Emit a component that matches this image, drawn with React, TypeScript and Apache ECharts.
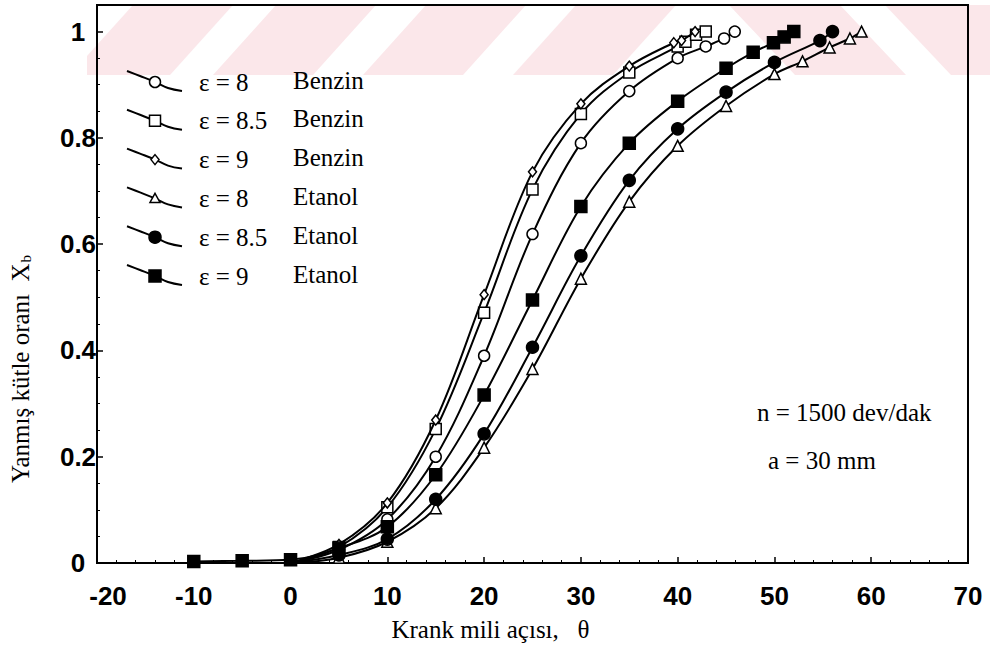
import React, { useEffect, useRef } from "react";
import * as echarts from "echarts";

// ---- data ----
const X_TICKS = [-20, -10, 0, 10, 20, 30, 40, 50, 60, 70];
const Y_TICKS = [0, 0.2, 0.4, 0.6, 0.8, 1];

const B8_X = [0, 5, 10, 15, 20, 25, 30, 35, 40, 42.9, 44.8, 45.9];
const B8_Y = [0, 0.025, 0.082, 0.2, 0.39, 0.619, 0.79, 0.888, 0.95, 0.972, 0.987, 1.0];

const B85_X = [0, 5, 10, 15, 20, 25, 30, 35, 40, 40.8, 41.9, 42.9];
const B85_Y = [0, 0.03, 0.105, 0.252, 0.471, 0.703, 0.845, 0.923, 0.972, 0.981, 0.994, 1.0];

const B9_X = [0, 5, 10, 15, 20, 25, 30, 35, 39.6, 40.4, 41.8];
const B9_Y = [0, 0.035, 0.113, 0.269, 0.505, 0.736, 0.864, 0.935, 0.979, 0.983, 1.0];

const E8_X = [0, 5, 10, 15, 20, 25, 30, 35, 40, 45, 50, 52.9, 55.7, 57.8, 59];
const E8_Y = [0, 0.01, 0.04, 0.103, 0.217, 0.365, 0.535, 0.68, 0.785, 0.86, 0.92, 0.944, 0.97, 0.987, 1.0];

const E85_X = [0, 5, 10, 15, 20, 25, 30, 35, 40, 45, 50, 54.7, 56];
const E85_Y = [0, 0.015, 0.045, 0.12, 0.243, 0.406, 0.578, 0.72, 0.817, 0.886, 0.942, 0.983, 1.0];

const E9_X = [-10, -5, 0, 5, 10, 15, 20, 25, 30, 35, 40, 45, 47.8, 49.9, 51, 52];
const E9_Y = [0.003, 0.004, 0.006, 0.028, 0.068, 0.166, 0.316, 0.495, 0.671, 0.79, 0.869, 0.931, 0.961, 0.979, 0.99, 1.0];

const LEGEND_EPS = ["ε = 8", "ε = 8.5", "ε = 9", "ε = 8", "ε = 8.5", "ε = 9"];
const LEGEND_FUEL = ["Benzin", "Benzin", "Benzin", "Etanol", "Etanol", "Etanol"];

const NOTE_1 = "n = 1500 dev/dak";
const NOTE_2 = "a = 30 mm";

const SERIF = "'Liberation Serif', 'DejaVu Serif', serif";
const SANS = "'Liberation Sans', Arial, sans-serif";

type Sty = { symbol: string; size: number | number[]; fill: string };
const STYLES: Sty[] = [
  { symbol: "circle", size: 11, fill: "#fff" },
  { symbol: "rect", size: 11, fill: "#fff" },
  { symbol: "diamond", size: [8, 10], fill: "#fff" },
  { symbol: "triangle", size: 11, fill: "#fff" },
  { symbol: "circle", size: 12, fill: "#000" },
  { symbol: "rect", size: 12, fill: "#000" },
];
const XS = [B8_X, B85_X, B9_X, E8_X, E85_X, E9_X];
const YS = [B8_Y, B85_Y, B9_Y, E8_Y, E85_Y, E9_Y];

function buildSeries() {
  return XS.map((xs, i) => {
    const st = STYLES[i];
    const data = xs.map((x, k) => {
      const item: any = { value: [x, YS[i][k]] };
      if (x === 0 && YS[i][k] === 0) item.symbol = "none";
      return item;
    });
    return {
      type: "line",
      name: LEGEND_EPS[i] + " " + LEGEND_FUEL[i],
      data,
      smooth: 0.35,
      symbol: st.symbol,
      symbolSize: st.size,
      showAllSymbol: true,
      lineStyle: { color: "#000", width: 2 },
      itemStyle: { color: st.fill, borderColor: "#000", borderWidth: 1.5 },
      emphasis: { disabled: true },
      z: 3 + i,
    };
  });
}

function legendGraphics() {
  const els: any[] = [];
  for (let i = 0; i < 6; i++) {
    const y = 82 + i * 38.8;
    els.push({
      type: "polyline",
      z: 10,
      shape: { points: [[127, y - 11], [140, y - 6], [155, y], [168, y + 6], [182, y + 9]], smooth: 0.4 },
      style: { stroke: "#000", lineWidth: 2, fill: null },
    });
    const cx = 155;
    const st = STYLES[i];
    let m: any;
    if (st.symbol === "circle") {
      m = { type: "circle", shape: { cx, cy: y, r: (st.size as number) / 2 } };
    } else if (st.symbol === "rect") {
      const s = st.size as number;
      m = { type: "rect", shape: { x: cx - s / 2, y: y - s / 2, width: s, height: s } };
    } else if (st.symbol === "diamond") {
      m = { type: "polygon", shape: { points: [[cx, y - 5], [cx + 4, y], [cx, y + 5], [cx - 4, y]] } };
    } else {
      m = { type: "polygon", shape: { points: [[cx, y - 5], [cx + 5, y + 4], [cx - 5, y + 4]] } };
    }
    m.z = 11;
    m.style = { fill: st.fill, stroke: "#000", lineWidth: 1.5 };
    els.push(m);
    els.push({
      type: "text", z: 11, x: 199, y,
      style: { text: LEGEND_EPS[i], font: `25px ${SERIF}`, fill: "#000", verticalAlign: "middle", align: "left" },
    });
    els.push({
      type: "text", z: 11, x: 293, y: y - 2,
      style: { text: LEGEND_FUEL[i], font: `25px ${SERIF}`, fill: "#000", verticalAlign: "middle", align: "left" },
    });
  }
  return els;
}

function watermark() {
  const pink = "#fbe7ea";
  const polys = [
    [[87, 75], [170, 75], [233, 5], [133, 5], [87, 56]],
    [[213, 75], [313, 75], [376, 5], [276, 5]],
    [[363, 75], [463, 75], [526, 5], [426, 5]],
    [[513, 75], [613, 75], [676, 5], [576, 5]],
    [[729, 5], [840, 5], [906, 75], [795, 75]],
    [[885, 5], [990, 5], [990, 75], [951, 75]],
  ];
  return polys.map((p) => ({ type: "polygon", z: -10, silent: true, shape: { points: p }, style: { fill: pink } }));
}

export default function App() {
  const ref = useRef<HTMLDivElement>(null);
  useEffect(() => {
    if (!ref.current) return;
    const chart = echarts.init(ref.current, null, { renderer: "svg" });
    const option: any = {
      animation: false,
      backgroundColor: "#fff",
      grid: { left: 86, right: 22, top: 5, bottom: 72, show: true, borderColor: "#000", borderWidth: 2, backgroundColor: "transparent", z: 1 },
      xAxis: {
        type: "value",
        min: X_TICKS[0],
        max: X_TICKS[X_TICKS.length - 1],
        interval: X_TICKS[1] - X_TICKS[0],
        axisLine: { show: true, onZero: false, lineStyle: { color: "#000", width: 2 } },
        axisTick: { show: true, inside: true, length: 6, lineStyle: { color: "#000", width: 1.5 } },
        minorTick: { show: true, splitNumber: 5, length: 3, lineStyle: { color: "#000", width: 1 } },
        splitLine: { show: false },
        axisLabel: {
          margin: 20,
          color: "#000",
          fontFamily: SANS,
          fontWeight: "bold",
          fontSize: 26,
          formatter: (v: number) => (v === X_TICKS[0] ? `{f|${v}}` : String(v)),
          rich: { f: { padding: [0, 0, 0, 22], fontFamily: SANS, fontWeight: "bold", fontSize: 26, color: "#000" } },
        },
        name: "Krank mili açısı,   θ",
        nameLocation: "middle",
        nameGap: 54,
        nameTextStyle: { fontFamily: SERIF, fontSize: 25, color: "#000", padding: [0, 84, 0, 0] },
      },
      yAxis: {
        type: "value",
        min: 0,
        max: 1.05,
        interval: Y_TICKS[1] - Y_TICKS[0],
        axisLine: { show: true, onZero: false, lineStyle: { color: "#000", width: 2 } },
        axisTick: { show: true, inside: true, length: 6, lineStyle: { color: "#000", width: 1.5 } },
        minorTick: { show: true, splitNumber: 4, length: 3, lineStyle: { color: "#000", width: 1 } },
        splitLine: { show: false },
        axisLabel: {
          margin: 19,
          align: "center",
          color: "#000",
          fontFamily: SANS,
          fontWeight: "bold",
          fontSize: 26,
          formatter: (v: number) => {
            const t = Y_TICKS.find((y) => Math.abs(y - v) < 1e-6);
            if (t === undefined) return "";
            return t === 0 || t === 1 ? String(t) : t.toFixed(1);
          },
        },
        name: "Yanmış kütle oranı  {x|X}{b|b}",
        nameLocation: "middle",
        nameGap: 64,
        nameRotate: 90,
        nameTextStyle: {
          fontFamily: SERIF, fontSize: 25, color: "#000",
          padding: [0, 170, 0, 0],
          rich: {
            x: { fontFamily: SERIF, fontSize: 25, color: "#000" },
            b: { fontFamily: SERIF, fontSize: 15, color: "#000", verticalAlign: "bottom", padding: [10, 0, 0, 1] },
          },
        },
      },
      graphic: [
        ...watermark(),
        ...legendGraphics(),
        { type: "text", z: 11, x: 757, y: 412, style: { text: NOTE_1, font: `25px ${SERIF}`, fill: "#000", verticalAlign: "middle" } },
        { type: "text", z: 11, x: 768, y: 460, style: { text: NOTE_2, font: `25px ${SERIF}`, fill: "#000", verticalAlign: "middle" } },
      ],
      series: buildSeries(),
    };
    chart.setOption(option);
    return () => chart.dispose();
  }, []);
  return <div ref={ref} style={{ position: "absolute", left: 0, top: 0, width: 990, height: 647 }} />;
}
